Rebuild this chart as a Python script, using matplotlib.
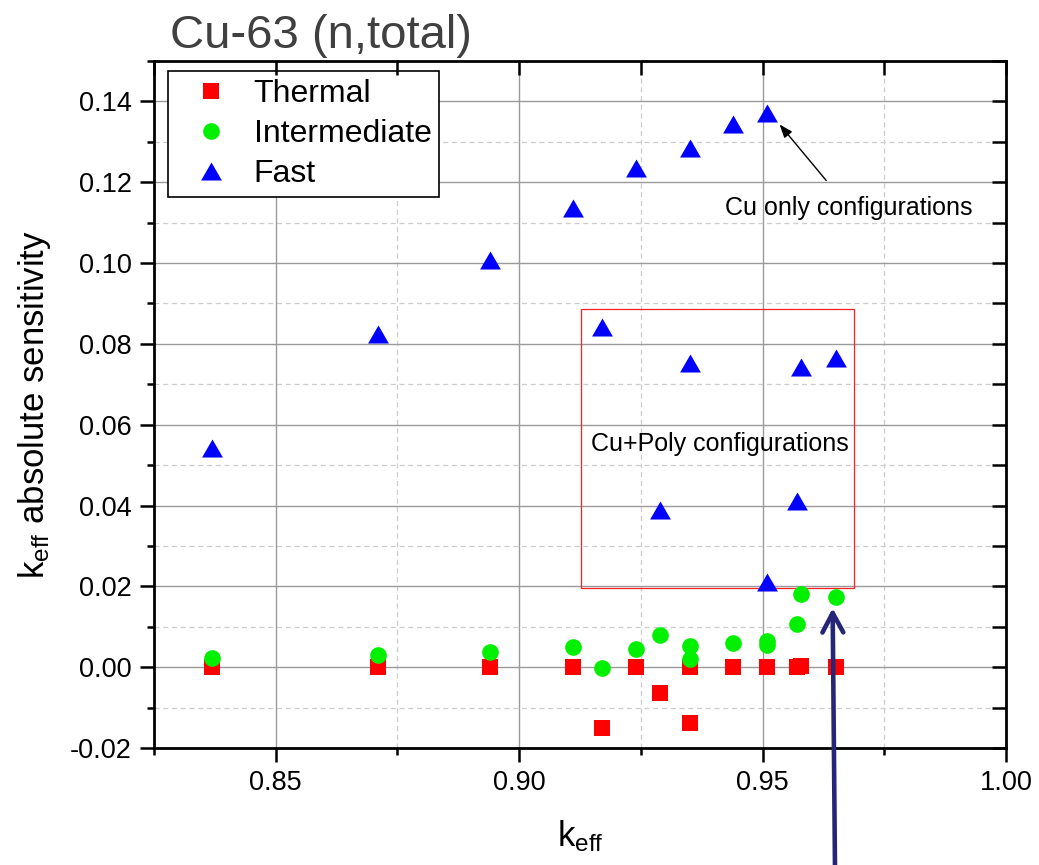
import matplotlib
matplotlib.use("Agg")
import matplotlib.pyplot as plt
from matplotlib.patches import Rectangle
from matplotlib.ticker import MultipleLocator, FormatStrFormatter

plt.rcParams["font.family"] = ["Liberation Sans", "DejaVu Sans"]
plt.rcParams["axes.unicode_minus"] = False
plt.rcParams["mathtext.fontset"] = "custom"
plt.rcParams["mathtext.rm"] = "Liberation Sans"

# Cu only configurations
keff_cu = [0.837, 0.871, 0.894, 0.911, 0.924, 0.935, 0.944, 0.951]
thermal_cu = [0.0, 0.0, 0.0, 0.0, 0.0, 0.0, 0.0, 0.0]
intermediate_cu = [0.0023, 0.0031, 0.0037, 0.0049, 0.0046, 0.0053, 0.0060, 0.0064]
fast_cu = [0.0543, 0.0825, 0.1008, 0.1137, 0.1234, 0.1284, 0.1344, 0.1371]

# Cu+Poly configurations
keff_poly = [0.917, 0.929, 0.935, 0.951, 0.957, 0.958, 0.965]
thermal_poly = [-0.0151, -0.0064, -0.0139, 0.0, 0.0, 0.0002, 0.0]
intermediate_poly = [-0.0002, 0.0079, 0.0020, 0.0054, 0.0106, 0.0182, 0.0173]
fast_poly = [0.0842, 0.0389, 0.0753, 0.0210, 0.0412, 0.0742, 0.0764]

keff = keff_cu + keff_poly
thermal = thermal_cu + thermal_poly
intermediate = intermediate_cu + intermediate_poly
fast = fast_cu + fast_poly

xlim = (0.825, 1.00)
ylim = (-0.02, 0.15)
pos = [0.1482, 0.1353, 0.82, 0.7942]

fig = plt.figure(figsize=(10.39, 8.65), dpi=100)
ax = fig.add_axes(pos)

tri = [(-1, -0.866), (1, -0.866), (0, 0.866)]
ax.plot(keff, thermal, ls="none", marker="s", ms=11, mew=0, color="#ff0000", label="Thermal", zorder=3)
ax.plot(keff, intermediate, ls="none", marker="o", ms=12, mew=0, color="#00f000", label="Intermediate", zorder=4)
ax.plot(keff, fast, ls="none", marker=tri, ms=15, mew=0, color="#0000ff", label="Fast", zorder=5)

ax.set_xlim(*xlim)
ax.set_ylim(*ylim)
ax.xaxis.set_major_locator(MultipleLocator(0.05))
ax.xaxis.set_minor_locator(MultipleLocator(0.025))
ax.yaxis.set_major_locator(MultipleLocator(0.02))
ax.yaxis.set_minor_locator(MultipleLocator(0.01))
ax.xaxis.set_major_formatter(FormatStrFormatter("%.2f"))
ax.yaxis.set_major_formatter(FormatStrFormatter("%.2f"))

# grid
ax.set_axisbelow(True)
ax.grid(which="major", color="#9a9a9a", lw=1.0, ls="-")
ax.grid(which="minor", color="#cccccc", lw=0.9, ls=(0, (4, 3)))

for s in ax.spines.values():
    s.set_linewidth(2)
ax.tick_params(which="major", direction="out", length=10, width=1.8, labelsize=19.5, pad=6)
ax.tick_params(which="minor", direction="out", length=5, width=1.8)

# inward ticks on top and right (overlay axes)
ax2 = fig.add_axes(pos, facecolor="none")
ax2.set_xlim(*xlim)
ax2.set_ylim(*ylim)
ax2.xaxis.set_major_locator(MultipleLocator(0.025))
ax2.yaxis.set_major_locator(MultipleLocator(0.01))
ax2.tick_params(which="both", direction="in", length=10, width=1.8,
                bottom=False, left=False, top=True, right=True,
                labelbottom=False, labelleft=False)
for s in ax2.spines.values():
    s.set_visible(False)

ax.set_xlabel(r"$\mathregular{k_{eff}}$", fontsize=25, labelpad=16)
ax.set_ylabel(r"$\mathregular{k_{eff}}$ absolute sensitivity", fontsize=25, labelpad=12)

fig.text(0.1636, 0.9445, "Cu-63 (n,total)", fontsize=34, color="#404040", va="baseline", ha="left")

# Cu+Poly box
ax.add_patch(Rectangle((0.9128, 0.0196), 0.9688 - 0.9128, 0.0886 - 0.0196,
                       fill=False, edgecolor="#ff2020", lw=0.9, zorder=2))
ax.text(0.9412, 0.0551, "Cu+Poly configurations", fontsize=18, ha="center", va="center")

ax.annotate("Cu only configurations", xy=(0.9535, 0.1343), xytext=(0.9678, 0.1136),
            fontsize=18, ha="center", va="center",
            arrowprops=dict(arrowstyle="-|>,head_length=0.8,head_width=0.3", lw=1,
                            color="black", shrinkA=12, shrinkB=0, mutation_scale=10))

# big arrow from below
ax2.annotate("", xy=(0.9644, 0.0146), xytext=(0.8037, -0.01), textcoords="figure fraction",
             annotation_clip=False,
             arrowprops=dict(arrowstyle="->,head_length=1.4,head_width=0.75", lw=3.3,
                             color="#262678", shrinkA=0, shrinkB=0, mutation_scale=10))

leg = ax.legend(loc="upper left", bbox_to_anchor=(0.0168, 0.9854), borderaxespad=0,
                fontsize=23, numpoints=1, fancybox=False, framealpha=1, edgecolor="black",
                borderpad=0.25, handlelength=2.2, handletextpad=0.22, labelspacing=0.31)
leg.get_frame().set_linewidth(1.2)

fig.savefig("out.png", dpi=100)
